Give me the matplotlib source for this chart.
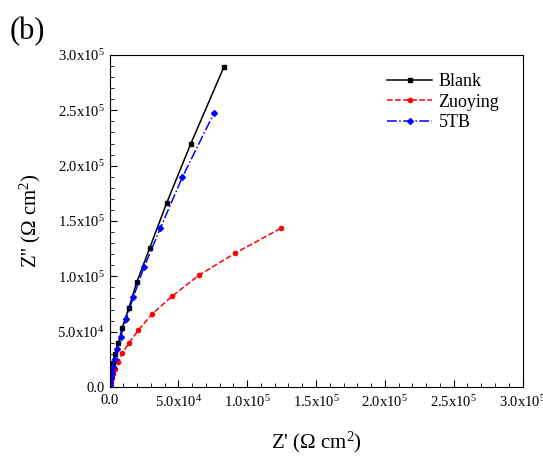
import matplotlib
matplotlib.use("Agg")
import matplotlib.pyplot as plt
import numpy as np
from matplotlib.ticker import FuncFormatter, MultipleLocator

plt.rcParams['font.family'] = 'Liberation Serif'
plt.rcParams['mathtext.fontset'] = 'custom'
plt.rcParams['mathtext.rm'] = 'Liberation Serif'
plt.rcParams['mathtext.it'] = 'Liberation Serif:italic'

# impedance data (ohm cm2)
blank_x = [0, 150, 360, 730, 1450, 2300, 4000, 6400, 9100, 13950, 19800, 29200, 41600, 59000, 83200]
blank_y = [1200, 2700, 5400, 9900, 15400, 21400, 29600, 39500, 53100, 71200, 94700, 125700, 166600, 219700, 289600]

zuoying_x = [0, 360, 870, 1600, 2500, 4000, 6200, 9300, 13950, 20900, 30700, 45400, 65000, 91200, 124600]
zuoying_y = [0, 2000, 4800, 7900, 11800, 16600, 22300, 30500, 39500, 51300, 65700, 82000, 101000, 120900, 143500]

tb5_x = [0, 350, 600, 1100, 1600, 2300, 3800, 5700, 8100, 12000, 17300, 25100, 36900, 52900, 75900]
tb5_y = [0, 2000, 4800, 8400, 12900, 18400, 25000, 34100, 45500, 61200, 81100, 108500, 143500, 189600, 247500]


def sci(v, pos):
    if v == 0:
        return '0.0'
    e = int(np.floor(np.log10(abs(v)) + 1e-9))
    m = v / 10 ** e
    return '%.1fx10$^{%d}$' % (m, e)


fig = plt.figure(figsize=(5.43, 4.61), dpi=100)
ax = fig.add_axes([0.2017, 0.1605, 0.7606, 0.7202])

ax.plot(blank_x, blank_y, color='black', lw=1.1, marker='s', ms=3, label='Blank')
ax.plot(zuoying_x, zuoying_y, color='red', lw=1.1, ls='--', marker='o', ms=3, label='Zuoying')
ax.plot(tb5_x, tb5_y, color='blue', lw=1.1, ls='-.', marker='D', ms=3, label='5TB')

ax.set_xlim(0, 3e5)
ax.set_ylim(0, 3e5)
ax.xaxis.set_major_locator(MultipleLocator(5e4))
ax.yaxis.set_major_locator(MultipleLocator(5e4))
ax.xaxis.set_minor_locator(MultipleLocator(1e4))
ax.yaxis.set_minor_locator(MultipleLocator(1e4))
ax.xaxis.set_major_formatter(FuncFormatter(sci))
ax.yaxis.set_major_formatter(FuncFormatter(sci))
ax.tick_params(which='both', direction='in', labelsize=10.5)
ax.tick_params(which='major', length=5)
ax.tick_params(which='minor', length=3)
ax.tick_params(axis='x', pad=5)

ax.set_xlabel("Z' ($\\Omega$ cm$^2$)", fontsize=15, labelpad=14)
ax.set_ylabel("Z'' ($\\Omega$ cm$^2$)", fontsize=15, labelpad=10)

ax.legend(loc='upper left', frameon=False, fontsize=13, handlelength=2.5,
          handletextpad=0.35, borderaxespad=0, borderpad=0, labelspacing=0.2,
          bbox_to_anchor=(0.672, 0.946))

fig.text(0.018, 0.915, '(b)', fontsize=22)

fig.savefig('out.png', dpi=100)
